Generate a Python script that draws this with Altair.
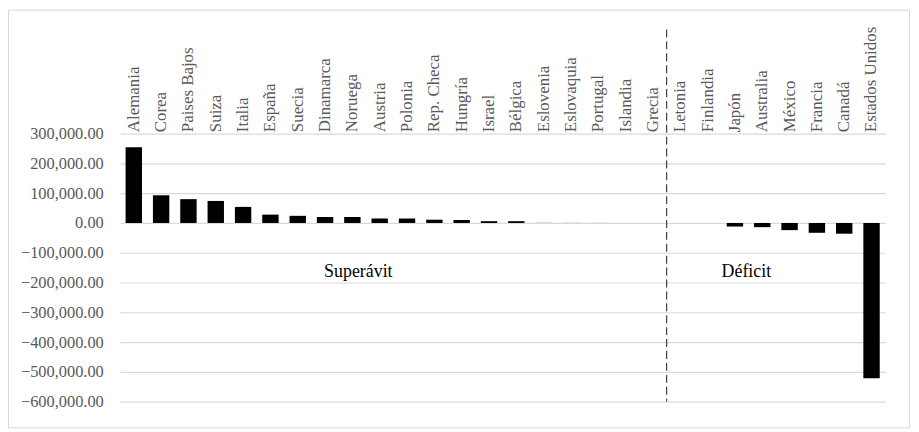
import altair as alt
import pandas as pd

paises = [
    "Alemania", "Corea", "Paises Bajos", "Suiza", "Italia", "España", "Suecia",
    "Dinamarca", "Noruega", "Austria", "Polonia", "Rep. Checa", "Hungría", "Israel",
    "Bélgica", "Eslovenia", "Eslovaquia", "Portugal", "Islandia", "Grecia",
    "Letonia", "Finlandia", "Japón", "Australia", "México", "Francia", "Canadá",
    "Estados Unidos",
]
saldo = [
    254000, 93000, 80000, 74000, 54000, 28000, 24000,
    20000, 20000, 15000, 15000, 11000, 10000, 6000,
    6000, 300, 250, 200, 150, 100,
    -100, -200, -12000, -14000, -24000, -33000, -36000,
    -522000,
]
y_ticks = [300000, 200000, 100000, 0, -100000, -200000, -300000, -400000, -500000, -600000]
etiquetas = ["Superávit", "Déficit"]
etiqueta_pais = ["Noruega", "Australia"]
etiqueta_valor = [-166000, -166000]

df = pd.DataFrame({"pais": paises, "saldo": saldo})

W, H = 771, 270
PAD = 0.4
step = W / len(paises)
SERIF = "Liberation Serif"
GRAY = "#595959"

xscale = alt.Scale(domain=paises, paddingInner=PAD, paddingOuter=PAD / 2)
yscale = alt.Scale(domain=[-600000, 300000], nice=False)

xaxis = alt.Axis(
    orient="top", title=None, labelAngle=-90, labelAlign="left", labelBaseline="middle",
    labelPadding=2, domain=False, ticks=False, grid=False, labelFont=SERIF,
    labelFontSize=17, labelColor=GRAY, labelOverlap=False,
)
yaxis = alt.Axis(
    title=None, values=y_ticks, format=",.2f", domain=False, ticks=False,
    labelPadding=17, labelFont=SERIF, labelFontSize=16.5, labelColor=GRAY,
    labelOverlap=False, labelBaseline="middle",
    grid=True, gridColor="#d9d9d9", gridWidth=1.2,
)

frame = alt.Chart(pd.DataFrame({"a": [0]})).mark_rect(
    fill="transparent", stroke="#d9d9d9", strokeWidth=1
).encode(
    x=alt.value(-112.5), x2=alt.value(795.5), y=alt.value(-124.5), y2=alt.value(296.5)
)

bars = alt.Chart(df).mark_bar(color="black").encode(
    x=alt.X("pais:N", sort=paises, scale=xscale, axis=xaxis),
    y=alt.Y("saldo:Q", scale=yscale, axis=yaxis),
)

divisor = alt.Chart(
    pd.DataFrame({"pais": ["Grecia"], "y": [650000], "y2": [-600000]})
).mark_rule(color="#404040", strokeWidth=1.2, strokeDash=[8, 4], xOffset=step * PAD / 2).encode(
    x=alt.X("pais:N", sort=paises, scale=xscale, bandPosition=1, axis=xaxis),
    y=alt.Y("y:Q", scale=yscale, axis=yaxis),
    y2="y2:Q",
)

txt_df = pd.DataFrame({"pais": etiqueta_pais, "y": etiqueta_valor, "t": etiquetas})
sup = alt.Chart(txt_df.iloc[[0]]).mark_text(
    font=SERIF, fontSize=18, color="black", dx=6, baseline="middle"
).encode(
    x=alt.X("pais:N", sort=paises, scale=xscale, axis=xaxis),
    y=alt.Y("y:Q", scale=yscale, axis=yaxis),
    text="t:N",
)
dfc = alt.Chart(txt_df.iloc[[1]]).mark_text(
    font=SERIF, fontSize=18, color="black", dx=-16, baseline="middle"
).encode(
    x=alt.X("pais:N", sort=paises, scale=xscale, axis=xaxis),
    y=alt.Y("y:Q", scale=yscale, axis=yaxis),
    text="t:N",
)

chart = alt.layer(frame, bars, divisor, sup, dfc).properties(
    width=W, height=H,
    autosize=alt.AutoSizeParams(type="none"),
    padding={"left": 113, "top": 125, "right": 26, "bottom": 27},
    background="white",
).configure_view(stroke=None)

chart.save("out.html", embed_options={"renderer": "svg", "actions": False})
